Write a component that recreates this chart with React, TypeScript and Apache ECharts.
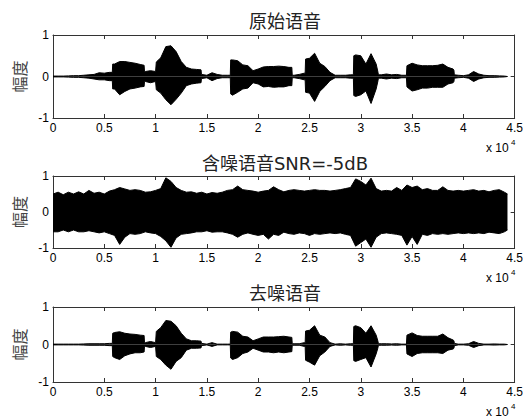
import React, { useEffect, useRef } from "react";
import * as echarts from "echarts";

// sample positions for the noisy panel (samples)
const samplePos = [
  0, 500, 1000, 1500, 2000, 2500, 3000, 3500, 4000, 4500,
  5000, 5500, 6000, 6500, 7000, 7500, 8000, 8500, 9000, 9500,
  10000, 10500, 11000, 11500, 12000, 12500, 13000, 13500, 14000, 14500,
  15000, 15500, 16000, 16500, 17000, 17500, 18000, 18500, 19000, 19500,
  20000, 20500, 21000, 21500, 22000, 22500, 23000, 23500, 24000, 24500,
  25000, 25500, 26000, 26500, 27000, 27500, 28000, 28500, 29000, 29500,
  30000, 30500, 31000, 31500, 32000, 32500, 33000, 33500, 34000, 34500,
  35000, 35500, 36000, 36500, 37000, 37500, 38000, 38500, 39000, 39500,
  40000, 40500, 41000, 41500, 42000, 42500, 43000, 43500, 44000, 44300,
];

// sample positions for the clean panels (extra points at word onsets/offsets)
const cleanPos = [
  0, 500, 1000, 1500, 2000, 2500, 3000, 3500, 4000, 4500,
  5000, 5500, 5780, 5820, 6000, 6500, 7000, 7500, 8000, 8500,
  8880, 8920, 9000, 9500, 10000, 10030, 10070, 10500, 11000, 11500,
  12000, 12500, 13000, 13500, 14000, 14430, 14470, 14500, 15000, 15500,
  16000, 16500, 17000, 17280, 17320, 17500, 18000, 18500, 19000, 19500,
  20000, 20500, 21000, 21500, 22000, 22500, 23000, 23280, 23320, 23500,
  24000, 24500, 24580, 24620, 25000, 25500, 26000, 26500, 27000, 27500,
  28000, 28500, 29000, 29280, 29320, 29500, 30000, 30500, 31000, 31500,
  31680, 31720, 32000, 32500, 33000, 33500, 34000, 34450, 34500, 35000,
  35500, 36000, 36500, 37000, 37500, 38000, 38500, 39000, 39080, 39120,
  39500, 40000, 40500, 41000, 41500, 42000, 42500, 43000, 43500, 44000,
  44300,
];

// 原始语音 envelope
const origUpper = [
  0.01, 0.01, 0.01, 0.015, 0.02, 0.02, 0.03, 0.04, 0.05, 0.09,
  0.08, 0.1, 0.1, 0.3, 0.3, 0.36, 0.36, 0.34, 0.32, 0.29,
  0.27, 0.12, 0.12, 0.14, 0.12, 0.12, 0.35, 0.45, 0.72, 0.74,
  0.6, 0.36, 0.22, 0.18, 0.17, 0.16, 0.05, 0.05, 0.03, 0.09,
  0.05, 0.03, 0.03, 0.03, 0.4, 0.4, 0.38, 0.28, 0.26, 0.14,
  0.18, 0.23, 0.24, 0.24, 0.25, 0.24, 0.22, 0.22, 0.03, 0.03,
  0.05, 0.08, 0.08, 0.42, 0.44, 0.56, 0.32, 0.24, 0.1, 0.03,
  0.03, 0.03, 0.04, 0.04, 0.5, 0.52, 0.5, 0.3, 0.55, 0.3,
  0.1, 0.04, 0.04, 0.06, 0.04, 0.05, 0.03, 0.03, 0.26, 0.32,
  0.28, 0.26, 0.26, 0.26, 0.27, 0.3, 0.22, 0.18, 0.15, 0.04,
  0.03, 0.02, 0.04, 0.12, 0.06, 0.03, 0.02, 0.02, 0.015, 0.01,
  0.0,
];
const origLower = [
  -0.01, -0.01, -0.01, -0.015, -0.02, -0.02, -0.03, -0.04, -0.06, -0.08,
  -0.08, -0.1, -0.1, -0.3, -0.3, -0.44, -0.36, -0.3, -0.28, -0.25,
  -0.24, -0.12, -0.12, -0.15, -0.12, -0.12, -0.32, -0.4, -0.56, -0.68,
  -0.55, -0.4, -0.22, -0.18, -0.16, -0.15, -0.05, -0.05, -0.03, -0.1,
  -0.05, -0.03, -0.03, -0.03, -0.42, -0.45, -0.38, -0.3, -0.28, -0.15,
  -0.18, -0.25, -0.24, -0.26, -0.25, -0.25, -0.22, -0.22, -0.03, -0.03,
  -0.05, -0.08, -0.08, -0.38, -0.4, -0.6, -0.36, -0.24, -0.1, -0.03,
  -0.03, -0.03, -0.04, -0.04, -0.46, -0.48, -0.44, -0.35, -0.65, -0.3,
  -0.1, -0.04, -0.04, -0.06, -0.04, -0.05, -0.03, -0.03, -0.25, -0.35,
  -0.32, -0.28, -0.28, -0.26, -0.26, -0.26, -0.18, -0.15, -0.12, -0.04,
  -0.03, -0.02, -0.04, -0.12, -0.06, -0.03, -0.02, -0.02, -0.015, -0.01,
  0.0,
];

// 含噪语音 envelope
const noisyUpper = [
  0.5, 0.55, 0.48, 0.55, 0.5, 0.56, 0.5, 0.6, 0.52, 0.55,
  0.5, 0.58, 0.62, 0.68, 0.64, 0.6, 0.62, 0.6, 0.55, 0.56,
  0.6, 0.65, 0.95, 0.85, 0.68, 0.6, 0.55, 0.56, 0.52, 0.55,
  0.5, 0.54, 0.52, 0.55, 0.6, 0.62, 0.72, 0.62, 0.6, 0.58,
  0.55, 0.58, 0.6, 0.7, 0.62, 0.56, 0.6, 0.62, 0.6, 0.58,
  0.6, 0.62, 0.6, 0.6, 0.58, 0.6, 0.62, 0.65, 0.68, 0.92,
  0.85, 0.75, 0.94, 0.65, 0.58, 0.6, 0.58, 0.68, 0.6, 0.75,
  0.68, 0.72, 0.62, 0.65, 0.6, 0.6, 0.7, 0.6, 0.58, 0.6,
  0.58, 0.6, 0.62, 0.58, 0.6, 0.56, 0.6, 0.62, 0.55, 0.5,
];
const noisyLower = [
  -0.55, -0.55, -0.5, -0.55, -0.5, -0.55, -0.55, -0.52, -0.55, -0.58,
  -0.55, -0.6, -0.65, -0.9, -0.7, -0.6, -0.62, -0.6, -0.55, -0.58,
  -0.6, -0.68, -0.8, -0.98, -0.72, -0.62, -0.6, -0.58, -0.55, -0.55,
  -0.52, -0.56, -0.55, -0.55, -0.58, -0.62, -0.7, -0.62, -0.58, -0.62,
  -0.65, -0.62, -0.75, -0.62, -0.65, -0.56, -0.6, -0.62, -0.58, -0.6,
  -0.65, -0.6, -0.62, -0.6, -0.58, -0.6, -0.58, -0.62, -0.65, -0.95,
  -0.85, -0.75, -0.98, -0.7, -0.6, -0.58, -0.6, -0.62, -0.65, -0.92,
  -0.68, -0.9, -0.62, -0.65, -0.6, -0.62, -0.6, -0.62, -0.6, -0.58,
  -0.6, -0.58, -0.6, -0.58, -0.6, -0.56, -0.58, -0.6, -0.55, -0.5,
];

// 去噪语音 envelope
const denoUpper = [
  0.01, 0.01, 0.01, 0.01, 0.01, 0.01, 0.015, 0.02, 0.02, 0.02,
  0.02, 0.03, 0.03, 0.3, 0.32, 0.34, 0.3, 0.28, 0.27, 0.25,
  0.24, 0.05, 0.05, 0.08, 0.05, 0.05, 0.35, 0.45, 0.64, 0.62,
  0.5, 0.3, 0.15, 0.1, 0.1, 0.09, 0.03, 0.03, 0.01, 0.05,
  0.01, 0.01, 0.01, 0.01, 0.33, 0.35, 0.33, 0.22, 0.2, 0.1,
  0.15, 0.2, 0.2, 0.2, 0.21, 0.22, 0.2, 0.19, 0.02, 0.02,
  0.02, 0.05, 0.05, 0.36, 0.38, 0.5, 0.25, 0.2, 0.05, 0.01,
  0.02, 0.01, 0.02, 0.02, 0.48, 0.5, 0.45, 0.3, 0.5, 0.25,
  0.08, 0.02, 0.02, 0.02, 0.015, 0.02, 0.01, 0.01, 0.25, 0.31,
  0.24, 0.22, 0.22, 0.22, 0.22, 0.28, 0.18, 0.12, 0.1, 0.03,
  0.01, 0.01, 0.02, 0.08, 0.03, 0.01, 0.01, 0.015, 0.01, 0.01,
  0.0,
];
const denoLower = [
  -0.01, -0.01, -0.01, -0.01, -0.01, -0.01, -0.015, -0.02, -0.02, -0.02,
  -0.02, -0.03, -0.03, -0.32, -0.35, -0.4, -0.3, -0.25, -0.22, -0.22,
  -0.2, -0.05, -0.05, -0.08, -0.05, -0.05, -0.32, -0.4, -0.55, -0.66,
  -0.45, -0.35, -0.15, -0.1, -0.1, -0.09, -0.03, -0.03, -0.01, -0.05,
  -0.01, -0.01, -0.01, -0.01, -0.36, -0.4, -0.35, -0.24, -0.2, -0.1,
  -0.15, -0.2, -0.2, -0.22, -0.2, -0.22, -0.2, -0.19, -0.02, -0.02,
  -0.02, -0.05, -0.05, -0.42, -0.47, -0.55, -0.3, -0.2, -0.05, -0.01,
  -0.02, -0.01, -0.02, -0.02, -0.43, -0.45, -0.4, -0.35, -0.6, -0.25,
  -0.08, -0.02, -0.02, -0.02, -0.015, -0.02, -0.01, -0.01, -0.25, -0.32,
  -0.24, -0.22, -0.22, -0.22, -0.22, -0.24, -0.15, -0.12, -0.1, -0.03,
  -0.01, -0.01, -0.02, -0.08, -0.03, -0.01, -0.01, -0.015, -0.01, -0.01,
  0.0,
];

const titles = ["原始语音", "含噪语音SNR=-5dB", "去噪语音"];
const yName = "幅度";
const xTickLabels = ["0", "0.5", "1", "1.5", "2", "2.5", "3", "3.5", "4", "4.5"];
const yTickLabels = ["-1", "0", "1"];

const grids = [
  { left: 53, top: 35, width: 464, height: 83 },
  { left: 53, top: 176, width: 464, height: 72 },
  { left: 53, top: 307, width: 464, height: 75 },
];
const titleY = [21, 163, 293];
const panels = [
  { pos: cleanPos, up: origUpper, lo: origLower },
  { pos: samplePos, up: noisyUpper, lo: noisyLower },
  { pos: cleanPos, up: denoUpper, lo: denoLower },
];

const AXIS_COLOR = "#333";
const LABEL_FONT = "'Liberation Sans', Arial, sans-serif";

function buildOption() {
  const xAxis: any[] = [];
  const yAxis: any[] = [];
  const series: any[] = [];
  const graphic: any[] = [];
  grids.forEach((g, i) => {
    const common = {
      type: "value",
      gridIndex: i,
      axisLine: { show: true, onZero: false, lineStyle: { color: AXIS_COLOR, width: 1 } },
      axisTick: { show: true, inside: true, length: 4, lineStyle: { color: AXIS_COLOR } },
      splitLine: { show: false },
    };
    xAxis.push({
      ...common,
      min: 0,
      max: 45000,
      interval: 5000,
      position: "bottom",
      axisLabel: {
        formatter: (v: number) => xTickLabels[Math.round(v / 5000)],
        fontSize: 12,
        color: "#000",
        fontFamily: LABEL_FONT,
        margin: 4,
      },
    });
    xAxis.push({ ...common, min: 0, max: 45000, interval: 5000, position: "top", axisLabel: { show: false } });
    yAxis.push({
      ...common,
      min: -1,
      max: 1,
      interval: 1,
      position: "left",
      axisLabel: {
        formatter: (v: number) => yTickLabels[Math.round(v) + 1],
        fontSize: 12,
        color: "#000",
        fontFamily: LABEL_FONT,
        margin: 4,
      },
      name: yName,
      nameLocation: "middle",
      nameGap: 25,
      nameRotate: 90,
      nameTextStyle: { fontSize: 16, color: "#444", fontFamily: "'Noto Sans CJK SC', sans-serif" },
    });
    yAxis.push({ ...common, min: -1, max: 1, interval: 1, position: "right", axisLabel: { show: false } });

    const p = panels[i];
    [p.up, p.lo].forEach((arr) => {
      series.push({
        type: "line",
        xAxisIndex: 2 * i,
        yAxisIndex: 2 * i,
        data: p.pos.map((x, k) => [x, arr[k]]),
        symbol: "none",
        silent: true,
        lineStyle: { color: "#000", width: 1 },
        areaStyle: { color: "#000", opacity: 1 },
        z: 1,
      });
    });

    graphic.push({
      type: "text",
      style: {
        text: titles[i],
        x: g.left + g.width / 2,
        y: titleY[i],
        textAlign: "center",
        textVerticalAlign: "middle",
        fontSize: 18,
        fill: "#222",
        fontFamily: "'DejaVu Sans', 'Noto Sans CJK SC', sans-serif",
      },
    });
    const by = g.top + g.height + 30;
    graphic.push({
      type: "text",
      style: {
        text: "x 10",
        x: 486,
        y: by,
        textVerticalAlign: "middle",
        fontSize: 12,
        fill: "#000",
        fontFamily: LABEL_FONT,
      },
    });
    graphic.push({
      type: "text",
      style: {
        text: "4",
        x: 511,
        y: by - 6,
        textVerticalAlign: "middle",
        fontSize: 8,
        fill: "#000",
        fontFamily: LABEL_FONT,
      },
    });
  });

  return {
    animation: false,
    backgroundColor: "#fff",
    grid: grids,
    xAxis,
    yAxis,
    series,
    graphic,
  };
}

export default function App() {
  const ref = useRef<HTMLDivElement>(null);
  useEffect(() => {
    if (!ref.current) return;
    const chart = echarts.init(ref.current, null, { renderer: "svg" });
    chart.setOption(buildOption() as any);
    return () => chart.dispose();
  }, []);
  return (
    <div
      ref={ref}
      style={{ position: "absolute", left: 0, top: 0, width: 526, height: 418, background: "#fff" }}
    />
  );
}
